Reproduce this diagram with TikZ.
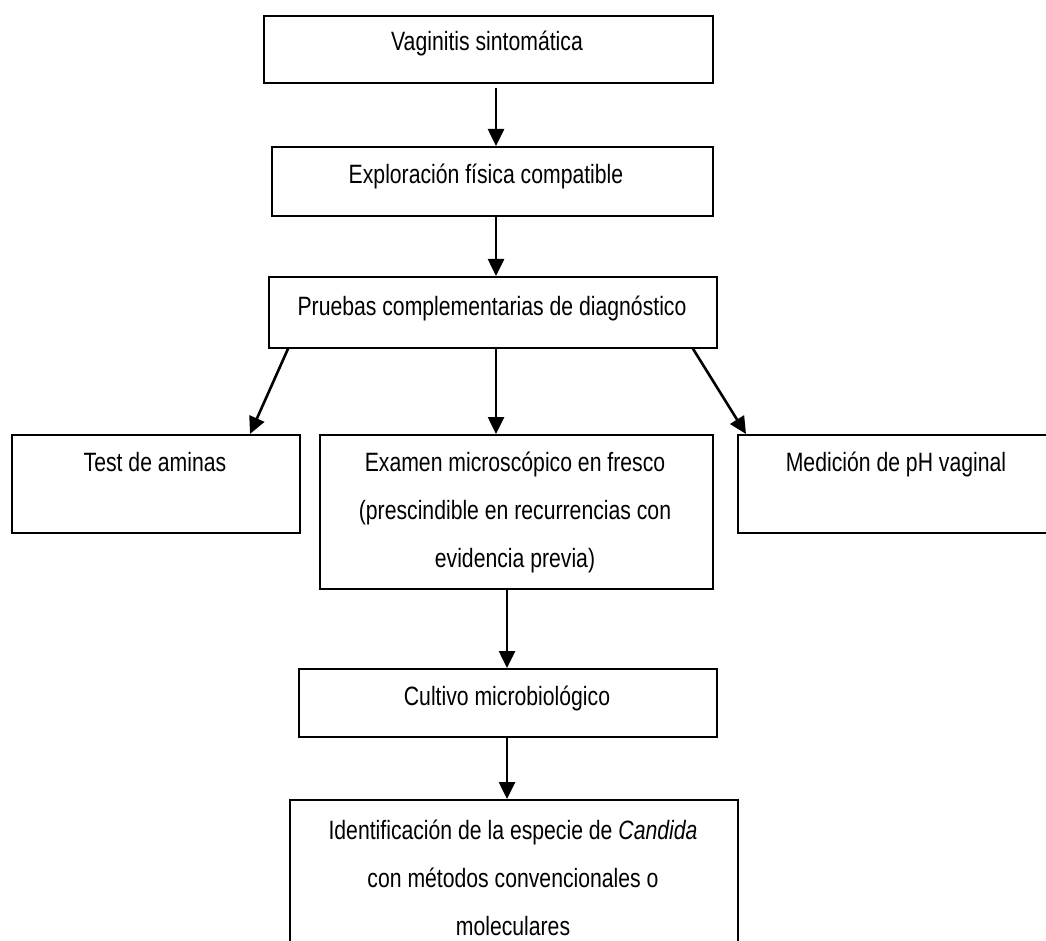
\documentclass[tikz,border=0pt]{standalone}
\usepackage{fontspec}
\setmainfont[FakeStretch=0.80]{Liberation Sans}
\usetikzlibrary{arrows.meta,calc}
\begin{document}
\begin{tikzpicture}[x=1pt,y=-1pt,
  box/.style={draw=black, line width=1.8pt, inner sep=0pt, anchor=north west, fill=white},
  txt/.style={anchor=base, inner sep=0pt, font=\fontsize{26.5}{32}\selectfont},
  arr/.style={line width=2.6pt, -{Triangle[width=16pt,length=17pt]}}]
\useasboundingbox (0,0) rectangle (1046,941);
% boxes
\node[box, minimum width=449pt, minimum height=67pt] (b1) at (263,15) {};
\node[box, minimum width=441pt, minimum height=69pt] (b2) at (271,146) {};
\node[box, minimum width=448pt, minimum height=71pt] (b3) at (268,276) {};
\node[box, minimum width=288pt, minimum height=98pt] (bl) at (11,434) {};
\node[box, minimum width=393pt, minimum height=154pt] (bm) at (319,434) {};
\node[box, minimum width=330pt, minimum height=98pt] (br) at (737,434) {};
\node[box, minimum width=418pt, minimum height=68pt] (bc) at (298,668) {};
\node[box, minimum width=448pt, minimum height=160pt] (bi) at (289,799) {};
% texts
\node[txt] (t1) at (487,51) {Vaginitis sintomática};
\node[txt] (t2) at (486,184) {Exploración física compatible};
\node[txt] (t3) at (492,315) {Pruebas complementarias de diagnóstico};
\node[txt] (tl) at (155,471) {Test de aminas};
\node[txt] (tm1) at (515,471) {Examen microscópico en fresco};
\node[txt] (tm2) at (515,519) {(prescindible en recurrencias con};
\node[txt] (tm3) at (515,567) {evidencia previa)};
\node[txt] (tr) at (896,471) {Medición de pH vaginal};
\node[txt] (tc) at (507,705) {Cultivo microbiológico};
\node[txt] (ti1) at (513,839) {Identificación de la especie de \textit{Candida}};
\node[txt] (ti2) at (513,887) {con métodos convencionales o};
\node[txt] (ti3) at (513,935) {moleculares};
% connectors
\draw[arr] ($(b1.south -| 496,0)+(0,4)$) -- (b2.north -| 496,0);
\draw[arr] (b2.south -| 496,0) -- (b3.north -| 496,0);
\draw[arr] (b3.south -| 288,0) -- (bl.north -| 250,0);
\draw[arr] (b3.south -| 496,0) -- (bm.north -| 496,0);
\draw[arr] (b3.south -| 693,0) -- (br.north -| 746,0);
\draw[arr] (bm.south -| 507,0) -- (bc.north -| 507,0);
\draw[arr] (bc.south -| 507,0) -- (bi.north -| 507,0);
\end{tikzpicture}
\end{document}
